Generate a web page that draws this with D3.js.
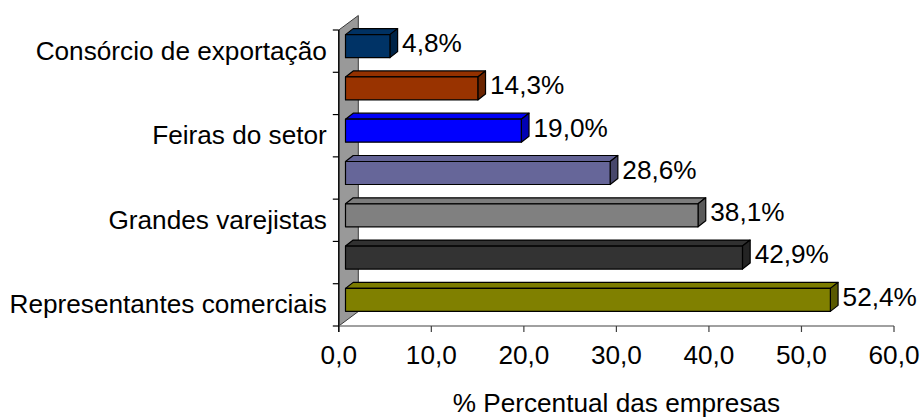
<!DOCTYPE html>
<html>
<head>
<meta charset="utf-8">
<script src="https://cdn.jsdelivr.net/npm/d3@7"></script>
<style>
  html, body { margin: 0; padding: 0; background: #fff; }
  svg text { font-family: "Liberation Sans", Arial, sans-serif; fill: #000; }
</style>
</head>
<body>
<svg id="chart" width="924" height="419"></svg>
<script>
// ---- data ----
const categories = ["Consórcio de exportação", "", "Feiras do setor", "", "Grandes varejistas", "", "Representantes comerciais"];
const values = [4.8, 14.3, 19.0, 28.6, 38.1, 42.9, 52.4];
const valueLabels = ["4,8%", "14,3%", "19,0%", "28,6%", "38,1%", "42,9%", "52,4%"];
const barColors = ["#003366", "#993300", "#0000FF", "#666699", "#808080", "#333333", "#808000"];
const xTicks = [0, 10, 20, 30, 40, 50, 60];
const xTickLabels = ["0,0", "10,0", "20,0", "30,0", "40,0", "50,0", "60,0"];
const xTitle = "% Percentual das empresas";

// ---- layout ----
const W = 924, H = 419;
const plot = { left: 338.8, right: 894, top: 30, bottom: 326 };
const FS = 26.2;
const wallDepth = { dx: 19.5, dy: -14.5 };
const barFront = { dx: 6.7, dy: -5 };
const barDepth = { dx: 7.7, dy: -6 };
const barThick = 23;

const svg = d3.select("#chart");

const x = d3.scaleLinear().domain([0, 60]).range([plot.left, plot.right]);
const y = d3.scaleBand().domain(d3.range(categories.length)).range([plot.top, plot.bottom]).padding(0);

// wall
const wallPts = [
  [plot.left, plot.top],
  [plot.left + wallDepth.dx, plot.top + wallDepth.dy],
  [plot.left + wallDepth.dx, plot.bottom + wallDepth.dy],
  [plot.left, plot.bottom]
];
svg.append("polygon")
  .attr("points", wallPts.map(p => p.join(",")).join(" "))
  .attr("fill", "#999999")
  .attr("stroke", "#3a3a3a")
  .attr("stroke-width", 1);

// x axis line (front bottom edge)
svg.append("line")
  .attr("x1", plot.left).attr("x2", plot.right)
  .attr("y1", plot.bottom).attr("y2", plot.bottom)
  .attr("stroke", "#808080").attr("stroke-width", 1.3);

// x ticks and labels
const xg = svg.append("g");
xg.selectAll("line.tick").data(xTicks).enter().append("line")
  .attr("x1", d => x(d)).attr("x2", d => x(d))
  .attr("y1", plot.bottom).attr("y2", plot.bottom + 6)
  .attr("stroke", "#404040").attr("stroke-width", 1.2);
xg.selectAll("text").data(xTicks).enter().append("text")
  .attr("x", d => x(d)).attr("y", 364)
  .attr("text-anchor", "middle")
  .attr("font-size", FS)
  .text((d, i) => xTickLabels[i]);

// y axis line and ticks
svg.append("line")
  .attr("x1", plot.left).attr("x2", plot.left)
  .attr("y1", plot.top).attr("y2", plot.bottom + 6)
  .attr("stroke", "#000").attr("stroke-width", 1.3);
const bounds = d3.range(categories.length + 1).map(i => plot.top + i * y.bandwidth());
svg.selectAll("line.ytick").data(bounds).enter().append("line")
  .attr("x1", plot.left - 6).attr("x2", plot.left)
  .attr("y1", d => d).attr("y2", d => d)
  .attr("stroke", "#000").attr("stroke-width", 1.2);

// category labels
svg.selectAll("text.cat").data(categories).enter().append("text")
  .attr("class", "cat")
  .attr("x", plot.left - 12)
  .attr("y", (d, i) => y(i) + y.bandwidth() / 2 + 8.4)
  .attr("text-anchor", "end")
  .attr("font-size", FS)
  .text(d => d);

// bars (3D)
const bars = svg.append("g");
values.forEach((v, i) => {
  const c = d3.color(barColors[i]);
  const cy = y(i) + y.bandwidth() / 2 + barFront.dy;
  const x0 = x(0) + barFront.dx;
  const x1 = x(v) + barFront.dx;
  const t = cy - barThick / 2, b = cy + barThick / 2;
  const dx = barDepth.dx, dy = barDepth.dy;
  const g = bars.append("g").attr("stroke", "#000").attr("stroke-width", 1.2).attr("stroke-linejoin", "round");
  // top face
  g.append("polygon")
    .attr("points", [[x0, t], [x0 + dx, t + dy], [x1 + dx, t + dy], [x1, t]].map(p => p.join(",")).join(" "))
    .attr("fill", c.darker(0.1).formatHex());
  // right side face
  g.append("polygon")
    .attr("points", [[x1, t], [x1 + dx, t + dy], [x1 + dx, b + dy], [x1, b]].map(p => p.join(",")).join(" "))
    .attr("fill", c.darker(1.0).formatHex());
  // front face
  g.append("rect")
    .attr("x", x0).attr("y", t)
    .attr("width", x1 - x0).attr("height", barThick)
    .attr("fill", c.formatHex());
  // value label
  svg.append("text")
    .attr("x", x1 + dx + 4.5)
    .attr("y", cy + dy / 2 + 9.3 - 0.5)
    .attr("font-size", FS)
    .text(valueLabels[i]);
});

// axis title
svg.append("text")
  .attr("x", (plot.left + plot.right) / 2)
  .attr("y", 412)
  .attr("text-anchor", "middle")
  .attr("font-size", FS)
  .text(xTitle);
</script>
</body>
</html>
